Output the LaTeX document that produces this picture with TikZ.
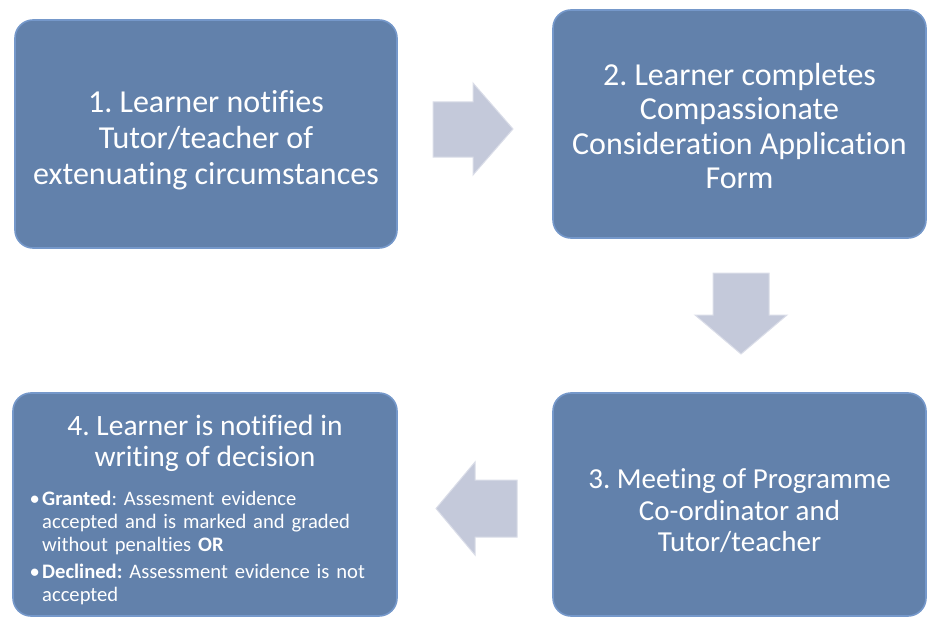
\documentclass[tikz,border=0pt]{standalone}
\usepackage{fontspec}
\setmainfont{Carlito}[Ligatures=NoCommon]
\frenchspacing
\definecolor{boxblue}{HTML}{6281AB}
\definecolor{boxedge}{HTML}{7598CA}
\definecolor{boxdark}{HTML}{56719B}
\definecolor{arrfill}{HTML}{C4C9DA}
\definecolor{arredge}{HTML}{DADDE8}
\tikzset{
  stepbox/.style={draw=boxedge, line width=1.6pt, fill=boxblue, rounded corners=18pt},
  steptext/.style={text=white, align=center, inner sep=0pt},
  bullettext/.style={text=white, anchor=base west, align=left, text width=350pt, inner sep=0pt,
      font=\fontsize{20.6}{23}\selectfont\frenchspacing},
  bulletdot/.style={text=white, anchor=base east, inner sep=0pt, font=\fontsize{20.6}{23}\selectfont},
  bigarrow/.style={fill=arrfill, draw=arredge, line width=1pt, line join=miter},
}
\begin{document}
\begin{tikzpicture}[x=1pt,y=-1pt]
\useasboundingbox (0,0) rectangle (927,618);
% boxes
\path[stepbox] (15,20) rectangle (397,248);
\node[steptext, font=\fontsize{32}{36}\selectfont] (t1) at (206,140) {1. Learner notifies\\Tutor/teacher of\\extenuating circumstances};
\path[stepbox] (553,10) rectangle (926,238);
\node[steptext, font=\fontsize{32}{34.5}\selectfont] (t2) at (739.5,126) {2. Learner completes\\Compassionate\\Consideration Application\\Form};
\path[stepbox] (553,393) rectangle (926,616);
\node[steptext, font=\fontsize{29}{31.5}\selectfont] (t3) at (739.5,511) {3. Meeting of Programme\\Co-ordinator and\\Tutor/teacher};
\path[stepbox] (13,393) rectangle (397,616);
\node[steptext, font=\fontsize{29.5}{31}\selectfont, anchor=base] (t4) at (205,466) {4. Learner is notified in\\writing of decision};
\node[bullettext] (b1) at (42,505)
  {\textbf{Granted}: Assesment evidence\\accepted and is marked and graded\\without penalties \textbf{OR}};
\node[bullettext] (b2) at (42,578)
  {\textbf{Declined:} Assessment evidence is not\\accepted};
\node[bulletdot] (d1) at (40,505) {•};
\node[bulletdot] (d2) at (40,578) {•};
% arrows
\path[bigarrow] (433,102) -- (473,102) -- (473,83) -- (513,129) -- (473,175) -- (473,157) -- (433,157) -- cycle;
\path[bigarrow] (713,273) -- (769,273) -- (769,315) -- (787,315) -- (741,354) -- (695,315) -- (713,315) -- cycle;
\path[bigarrow] (517,480) -- (475,480) -- (475,462) -- (436,508.5) -- (475,555) -- (475,537) -- (517,537) -- cycle;
\end{tikzpicture}
\end{document}
